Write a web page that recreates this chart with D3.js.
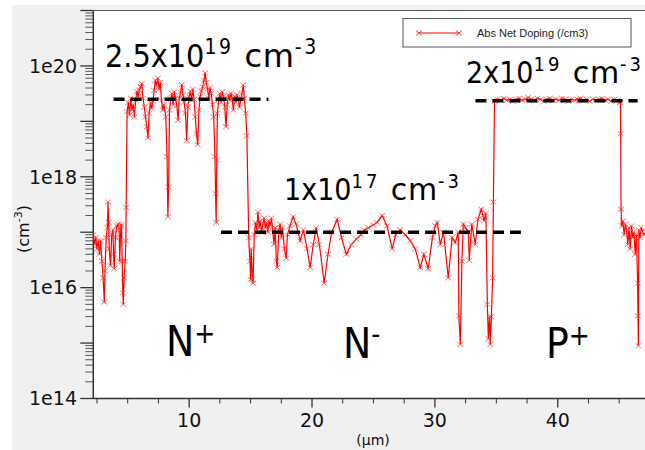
<!DOCTYPE html>
<html><head><meta charset="utf-8">
<script src="https://cdn.jsdelivr.net/npm/d3@7"></script>
<style>body{margin:0;background:#fff;} svg{display:block;}</style>
</head><body><svg id="c" width="645" height="450"></svg>
<script>
// ---------------- data (depth in µm, |net doping| in cm^-3) ----------------
const zoneADepth = [2.2,2.3,2.4,2.5,2.6,2.7,2.8,2.9,3.0,3.1,3.15,3.25,3.35,3.4,3.45,3.5,3.6,3.7,3.8,3.85,3.9,4.0,4.1,4.2,4.3,4.35,4.45,4.5,4.55,4.6,4.65,4.7,4.8,4.85,4.87];
const zoneADoping = [9e16,6e16,8e16,5e16,7e16,4e16,7e16,3e16,1.5e16,5.5e15,2e16,8e16,1.2e17,3.5e17,1.5e17,5e16,2.5e16,9e16,1.1e17,4e16,2.2e16,8e16,1.3e17,1.4e17,1.2e17,3e16,1.4e17,1.3e17,3e16,8e15,5e15,1.5e16,3e16,7e16,2.8e17];

const zoneBDepth = [4.95,5.05,5.15,5.25,5.35,5.45,5.55,5.65,5.75,5.85,5.95,6.05,6.15,6.25,6.35,6.45,6.55,6.65,6.75,6.85,6.95,7.05,7.15,7.25,7.35,7.45,7.55,7.65,7.75,7.85,7.95,8.1,8.2,8.27,8.33,8.4,8.5,8.6,8.7,8.8,8.9,9.0,9.1,9.2,9.3,9.4,9.5,9.6,9.7,9.8,9.9,10.0,10.1,10.2,10.3,10.4,10.5,10.6,10.7,10.8,10.9,11.0,11.1,11.2,11.3,11.4,11.5,11.6,11.7,11.8,11.9,12.0,12.1,12.15,12.2,12.25,12.3,12.4,12.5,12.6,12.7,12.8,12.9,13.0,13.1,13.2,13.3,13.4,13.5,13.6,13.7,13.8,13.9,14.0,14.1,14.2,14.3,14.4,14.5,14.6,14.7];
const zoneBDoping = [1.5e19,2.2e19,1.3e19,2.6e19,1.6e19,2.0e19,1.2e19,2.4e19,3.5e19,2.8e19,3.6e19,4.2e19,4.8e19,2.6e19,1.8e19,1.2e19,8e18,5e18,1.4e19,2.2e19,1.7e19,2.3e19,3.6e19,5.5e19,4.4e19,6.0e19,3.8e19,5.0e19,2.4e19,1.6e19,2.0e19,1.2e19,2.3e18,1.9e17,6.5e17,1.6e19,2.5e19,3.2e19,2.0e19,3.4e19,2.6e19,1.9e19,1.05e19,2.6e19,3.4e19,4.6e19,3.0e19,2.2e19,1.4e19,4.5e18,1.8e19,2.8e19,3.5e19,2.4e19,3.8e19,2.5e19,1.2e19,6e18,3.8e18,1.6e19,2.8e19,3.5e19,4.2e19,5.5e19,7.5e19,5.0e19,3.8e19,2.6e19,4.0e19,3.2e19,2.0e19,1.2e19,2.3e18,5e17,1.5e17,2.0e18,1.4e19,2.4e19,3.2e19,2.2e19,3.4e19,2.8e19,1.8e19,8e18,2.0e19,3.0e19,2.4e19,3.2e19,2.6e19,1.6e19,2.8e19,2.2e19,3.0e19,2.5e19,1.8e19,2.4e19,3.2e19,4.5e19,2.6e19,1.4e19,5.5e18];

const zoneCDepth = [14.85,14.95,15.0,15.05,15.15,15.2,15.3,15.4,15.5,15.6,15.7,15.8,15.9,16.0,16.1,16.2,16.3,16.4,16.5,16.6,16.7,16.8,16.9,17.0,17.1,17.17,17.3,17.4,17.5,17.6,17.75,17.9,18.0,18.2,18.47,18.7,19.04,19.3,19.6,19.85,20.1,20.34,20.6,20.99,21.3,21.6,22.05,22.4,22.79,23.2,23.6,24.0,24.25,24.6,24.98,25.3,25.72,26.1,26.53,26.8,27.18,27.6,28.0,28.4,28.81,29.1,29.46,29.8,30.03,30.2,30.44,30.7,31.09,31.4,31.66,31.9,31.95,32.07,32.2,32.31,32.5,32.72,32.8,33.0,33.29,33.5,33.78,33.9,34.0,34.15,34.27,34.35,34.45,34.51,34.6,34.7,34.76];
const zoneCDoping = [8e16,3e16,1.4e16,5e16,1.4e16,1.2e16,9e16,1.5e17,1.1e17,2.3e17,1.2e17,1.6e17,1.0e17,1.4e17,1.8e17,1.2e17,1.5e17,1.0e17,1.6e17,1.3e17,1.8e17,1.1e17,6e16,1.2e17,3e16,2.3e16,1.1e17,1.4e17,8e16,1.2e17,5e16,3.4e16,9e16,1.3e17,1.9e17,1.4e17,7e16,1.1e17,5e16,2.3e16,6e16,1.2e17,6e16,1.2e16,4e16,1.0e17,1.7e17,8e16,4e16,6e16,7.5e16,9e16,1.1e17,1.2e17,1.35e17,1.5e17,2.0e17,1.3e17,5e16,9e16,1.1e17,9e16,7e16,5e16,2.3e16,4e16,2.2e16,8e16,1.3e17,1.5e17,6e16,1.0e17,1.5e16,8e16,6.5e16,1.0e17,3.1e15,9.5e14,3e16,1.4e17,1.2e17,1.0e17,3.1e16,1.4e17,6e16,1.7e17,2.6e17,2.0e17,1.6e17,2.2e17,5e15,1.2e15,3e15,9.5e14,3e15,1.5e16,3.5e17];

const zoneDDepth = [34.85,35.1,35.35,35.6,35.85,36.1,36.35,36.6,36.85,37.1,37.35,37.6,37.85,38.1,38.35,38.6,38.85,39.1,39.35,39.6,39.85,40.1,40.35,40.6,40.85,41.1,41.35,41.6,41.85,42.1,42.35,42.6,42.85,43.1,43.35,43.6,43.85,44.1,44.35,44.6,44.85,45.05];
const zoneDDoping = [2.3e19,2.5e19,2.4e19,2.6e19,2.4e19,2.5e19,2.3e19,2.5e19,2.6e19,2.4e19,2.5e19,2.7e19,2.5e19,2.4e19,2.6e19,2.5e19,2.3e19,2.5e19,2.6e19,2.4e19,2.5e19,2.4e19,2.6e19,2.5e19,2.3e19,2.5e19,2.4e19,2.5e19,2.6e19,2.4e19,2.5e19,2.3e19,2.5e19,2.4e19,2.5e19,2.6e19,2.4e19,2.5e19,2.3e19,2.5e19,2.4e19,2.2e19];

const zoneEDepth = [45.1,45.12,45.15,45.2,45.3,45.4,45.5,45.6,45.7,45.8,45.9,46.0,46.1,46.2,46.3,46.4,46.5,46.53,46.56,46.6,46.7,46.8,47.0,47.2];
const zoneEDoping = [2.2e19,6e18,2.6e17,1.3e17,1.6e17,9e16,1.4e17,1.1e17,6e16,1.2e17,5e16,1.3e17,8e16,1.0e17,4e16,9e16,1.2e16,3.1e15,9e14,1.1e17,8e16,1.2e17,9e16,1.0e17];

// reference levels (dashed): start depth, end depth, level
const refStart = [3.85, 12.6, 33.3];
const refEnd   = [16.45, 37.0, 46.5];
const refLevel = [2.5e19, 1e17, 2.35e19];

const xMajorTicks = [10, 20, 30, 40];
const yTickLabels = ["1e14", "1e16", "1e18", "1e20"];
const seriesName = "Abs Net Doping (/cm3)";

// ---------------- build ----------------
const depth = [].concat(zoneADepth, zoneBDepth, zoneCDepth, zoneDDepth, zoneEDepth);
const doping = [].concat(zoneADoping, zoneBDoping, zoneCDoping, zoneDDoping, zoneEDoping);
const pts = depth.map((d, i) => ({d, v: doping[i]}));

const svg = d3.select("#c");
const L = 93.3, R = 645, T = 10.5, B = 398.5;
const x = d3.scaleLinear().domain([2.2, 47.1]).range([L, R]);
const y = d3.scaleLog().domain([1e14, 1e21]).range([B, T]);

svg.append("rect").attr("x", 12).attr("y", 5).attr("width", 633).attr("height", 445).attr("fill", "#f0f0f0");
svg.append("rect").attr("x", L).attr("y", T).attr("width", R - L + 5).attr("height", B - T).attr("fill", "#fff");

svg.append("defs").append("clipPath").attr("id", "clip")
  .append("rect").attr("x", L).attr("y", T).attr("width", R - L + 5).attr("height", B - T);

const axisCol = "#333";
// y ticks
const yg = svg.append("g");
for (let e = 14; e <= 21; e++) {
  yg.append("line").attr("x1", L - 13).attr("x2", L).attr("y1", y(Math.pow(10, e))).attr("y2", y(Math.pow(10, e)))
    .attr("stroke", axisCol).attr("stroke-width", 1.3);
  if (e < 21) for (let k = 2; k <= 9; k++) {
    const yy = y(k * Math.pow(10, e));
    yg.append("line").attr("x1", L - 8).attr("x2", L).attr("y1", yy).attr("y2", yy).attr("stroke", "#555").attr("stroke-width", 1);
  }
}
yTickLabels.forEach(t => {
  yg.append("text").attr("x", 77).attr("y", y(+t)).attr("dy", "0.36em").attr("text-anchor", "end")
    .attr("font-family", "DejaVu Sans").attr("font-size", 19).attr("fill", "#111").text(t);
});
yg.append("line").attr("x1", L).attr("x2", L).attr("y1", T).attr("y2", B).attr("stroke", axisCol).attr("stroke-width", 1.5);
svg.append("line").attr("x1", L).attr("x2", R).attr("y1", T).attr("y2", T).attr("stroke", "#555").attr("stroke-width", 1.2);

// x axis
const xg = svg.append("g");
xg.append("line").attr("x1", L).attr("x2", R).attr("y1", B).attr("y2", B).attr("stroke", axisCol).attr("stroke-width", 1.5);
d3.range(2.5, 47.1, 2.5).forEach(v => {
  const major = xMajorTicks.includes(v);
  xg.append("line").attr("x1", x(v)).attr("x2", x(v)).attr("y1", B).attr("y2", B + (major ? 9 : 5))
    .attr("stroke", axisCol).attr("stroke-width", major ? 1.3 : 1);
});
xMajorTicks.forEach(v => {
  xg.append("text").attr("x", x(v)).attr("y", 427).attr("text-anchor", "middle")
    .attr("font-family", "DejaVu Sans").attr("font-size", 19).attr("fill", "#111").text(v);
});
svg.append("text").attr("x", 373).attr("y", 445).attr("text-anchor", "middle")
  .attr("font-family", "DejaVu Sans").attr("font-size", 14).attr("fill", "#111").text("(µm)");
const yl = svg.append("text").attr("transform", "translate(29,229) rotate(-90)").attr("text-anchor", "middle")
  .attr("font-family", "DejaVu Sans").attr("font-size", 16).attr("fill", "#111");
yl.append("tspan").text("(cm");
yl.append("tspan").attr("dy", -7).attr("font-size", 11).text("-3");
yl.append("tspan").attr("dy", 7).text(")");

// data
const plot = svg.append("g").attr("clip-path", "url(#clip)");
plot.append("path").datum(pts)
  .attr("d", d3.line().x(p => x(p.d)).y(p => y(p.v)))
  .attr("fill", "none").attr("stroke", "#ff0000").attr("stroke-width", 1.2);
const mk = "M-3,-2.5L3,2.5M-3,2.5L3,-2.5";
plot.selectAll("path.m").data(pts).enter().append("path").attr("class", "m")
  .attr("transform", p => `translate(${x(p.d)},${y(p.v)})`).attr("d", mk)
  .attr("stroke", "#ff3030").attr("stroke-width", 1).attr("stroke-opacity", 0.7).attr("fill", "none");

// dashed reference lines
refLevel.forEach((lv, i) => {
  plot.append("line").attr("x1", x(refStart[i])).attr("x2", x(refEnd[i])).attr("y1", y(lv)).attr("y2", y(lv))
    .attr("stroke", "#000").attr("stroke-width", 3.5).attr("stroke-dasharray", "11,6");
});

// rich text helper: parts = [text, isSuperscript]
const annFont = "'DejaVu Sans Condensed', 'DejaVu Sans'";
function rich(px, py, parts, size, supSize, shift, supSpacing) {
  const t = svg.append("text").attr("x", px).attr("y", py).attr("font-family", annFont)
    .attr("font-stretch", "condensed").attr("font-size", size).attr("fill", "#000");
  let up = false;
  parts.forEach(([s, sup]) => {
    const ts = t.append("tspan").text(s);
    if (sup) {
      ts.attr("font-size", supSize).attr("letter-spacing", supSpacing);
      if (!up) { ts.attr("dy", -shift); up = true; }
    } else {
      if (s === " cm") ts.attr("font-family", "DejaVu Sans").attr("font-stretch", "normal").attr("letter-spacing", 0.8);
      if (up) { ts.attr("dy", shift); up = false; }
    }
  });
  return t;
}
rich(105, 67, [["2.5x10", false], ["19", true], [" cm", false], ["-3", true]], 32, 21, 13, 2.5);
rich(284, 200, [["1x10", false], ["17", true], [" cm", false], ["-3", true]], 30, 20, 12, 3);
rich(466, 83, [["2x10", false], ["19", true], [" cm", false], ["-3", true]], 30, 20, 12, 3);

rich(166, 356, [["N", false], ["+", true]], 42, 28, 13, 0);
rich(343, 358, [["N", false], ["-", true]], 42, 28, 14, 0);
rich(546, 358, [["P", false], ["+", true]], 42, 28, 13, 0);

// legend
const lg = svg.append("g");
lg.append("rect").attr("x", 403).attr("y", 18.5).attr("width", 228).attr("height", 28.5)
  .attr("fill", "#fff").attr("stroke", "#555").attr("stroke-width", 1);
lg.append("line").attr("x1", 419).attr("x2", 459).attr("y1", 33).attr("y2", 33).attr("stroke", "#ff0000").attr("stroke-width", 1.2);
[419, 459].forEach(px => lg.append("path").attr("transform", `translate(${px},33)`).attr("d", mk)
  .attr("stroke", "#ff3030").attr("stroke-width", 1).attr("fill", "none"));
lg.append("text").attr("x", 477).attr("y", 37).attr("font-family", "'Liberation Sans', Arial")
  .attr("font-size", 11).attr("fill", "#222").text(seriesName);
</script></body></html>
